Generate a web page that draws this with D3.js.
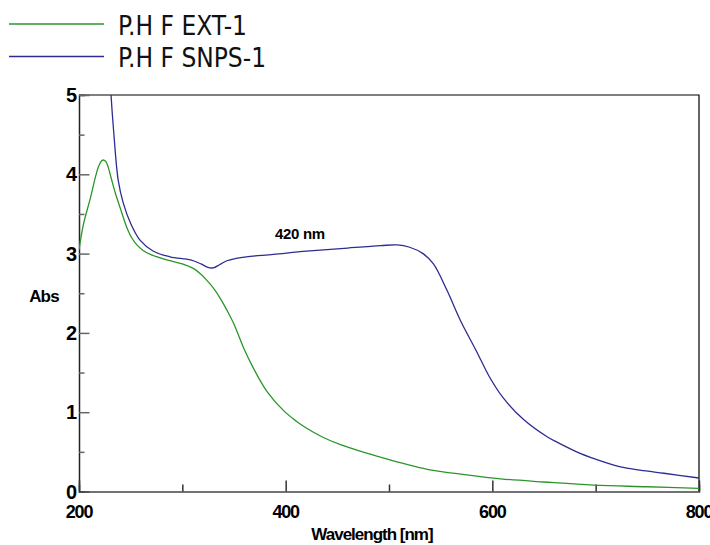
<!DOCTYPE html>
<html>
<head>
<meta charset="utf-8">
<script src="https://cdn.jsdelivr.net/npm/d3@7"></script>
<style>
  body { margin: 0; background: #fff; }
  .tick-lbl { font-family: "Liberation Sans", Arial, sans-serif; font-weight: bold; fill: #000; }
</style>
</head>
<body>
<script>
(function(){

  var width = 710, height = 545;
  var margin = { top: 95, right: 11, bottom: 53.5, left: 79 };

  // series names + colours
  var seriesNames = ["P.H F EXT-1", "P.H F SNPS-1"];
  var seriesColors = ["#2a962a", "#2c2c92"];

  // P.H F EXT-1 (nm, abs)
  var extNm  = [200, 204.5, 211, 216, 219, 222, 224, 226, 228, 231, 235, 240, 246, 251, 256, 262, 269, 280, 288, 300, 311, 318, 324, 331, 337, 343, 350, 359, 369, 382, 398, 410, 420, 435, 453, 495, 537, 575, 608, 650, 698, 750, 800];
  var extAbs = [3.05, 3.38, 3.70, 3.97, 4.10, 4.17, 4.18, 4.16, 4.10, 3.96, 3.77, 3.57, 3.34, 3.20, 3.11, 3.04, 2.99, 2.94, 2.91, 2.87, 2.81, 2.74, 2.66, 2.55, 2.43, 2.29, 2.11, 1.82, 1.55, 1.26, 1.02, 0.89, 0.80, 0.69, 0.59, 0.42, 0.28, 0.21, 0.16, 0.12, 0.08, 0.06, 0.04];

  // P.H F SNPS-1 (nm, abs)
  var snpsNm  = [228, 231, 233.5, 238, 243, 250, 259, 272, 288, 308, 318, 324, 330, 336, 343, 352, 362, 388, 420, 460, 492, 508, 520, 533, 543, 556, 569, 585, 597, 610, 630, 653, 663, 685, 695, 724, 743, 766, 800];
  var snpsAbs = [5.8, 5.0, 4.55, 3.92, 3.63, 3.38, 3.17, 3.03, 2.96, 2.92, 2.87, 2.83, 2.82, 2.86, 2.91, 2.94, 2.96, 2.99, 3.03, 3.07, 3.10, 3.11, 3.08, 3.0, 2.87, 2.54, 2.16, 1.76, 1.45, 1.19, 0.91, 0.69, 0.62, 0.48, 0.43, 0.31, 0.27, 0.23, 0.17];

  var xTickLabels = [200, 400, 600, 800];
  var yTickLabels = [0, 1, 2, 3, 4, 5];

  var svg = d3.select("body").append("svg")
      .attr("width", width)
      .attr("height", height);

  var x = d3.scaleLinear().domain([200, 800]).range([margin.left, width - margin.right]);
  var y = d3.scaleLinear().domain([0, 5]).range([height - margin.bottom, margin.top]);

  svg.append("clipPath").attr("id", "plot-clip")
    .append("rect")
      .attr("x", x(200)).attr("y", y(5))
      .attr("width", x(800) - x(200)).attr("height", y(0) - y(5));

  // frame top / right
  svg.append("path")
      .attr("d", "M" + x(200) + "," + y(5) + "H" + x(800) + "V" + y(0))
      .attr("fill", "none")
      .attr("stroke", "#000")
      .attr("stroke-width", 1.2);

  // y axis, ticks inside
  var yAxis = d3.axisRight(y)
      .tickValues(d3.range(0, 5.01, 0.5))
      .tickSize(6)
      .tickFormat("");
  var gy = svg.append("g")
      .attr("transform", "translate(" + x(200) + ",0)")
      .call(yAxis);
  gy.select(".domain").attr("stroke", "#222").attr("stroke-width", 1.5);
  gy.selectAll(".tick line")
      .attr("stroke", "#666").attr("stroke-width", 1.5)
      .attr("x2", function(d){ return d % 1 === 0 ? 10.5 : 5.5 });

  gy.selectAll(".ylbl")
    .data(yTickLabels)
    .enter().append("text")
      .attr("class", "tick-lbl")
      .attr("x", -3)
      .attr("y", function(d){ return y(d) + 7 })
      .attr("text-anchor", "end")
      .attr("font-size", 20)
      .attr("letter-spacing", -1)
      .text(function(d){ return d });

  // x axis, ticks inside
  var xAxis = d3.axisTop(x)
      .tickValues(d3.range(200, 801, 100))
      .tickSize(7)
      .tickFormat("");
  var gx = svg.append("g")
      .attr("transform", "translate(0," + y(0) + ")")
      .call(xAxis);
  gx.select(".domain").attr("stroke", "#444").attr("stroke-width", 1.5);
  gx.selectAll(".tick line")
      .attr("stroke", "#333").attr("stroke-width", 1.5)
      .attr("y2", function(d){ return d % 200 === 0 ? -11 : -7 });

  gx.selectAll(".xlbl")
    .data(xTickLabels)
    .enter().append("text")
      .attr("class", "tick-lbl")
      .attr("x", function(d){ return x(d) })
      .attr("y", 26)
      .attr("text-anchor", "middle")
      .attr("font-size", 18)
      .attr("letter-spacing", -1.2)
      .text(function(d){ return d });

  svg.append("text")
      .attr("class", "tick-lbl")
      .attr("x", 372)
      .attr("y", 540)
      .attr("text-anchor", "middle")
      .attr("font-size", 17)
      .attr("letter-spacing", -1)
      .text("Wavelength [nm]");

  svg.append("text")
      .attr("class", "tick-lbl")
      .attr("x", 44)
      .attr("y", 302)
      .attr("text-anchor", "middle")
      .attr("font-size", 17)
      .attr("letter-spacing", -0.8)
      .text("Abs");

  // curves
  var line = d3.line()
      .x(function(d){ return x(d[0]) })
      .y(function(d){ return y(d[1]) })
      .curve(d3.curveCatmullRom.alpha(0.5));

  var series = [d3.zip(extNm, extAbs), d3.zip(snpsNm, snpsAbs)];

  svg.append("g")
      .attr("clip-path", "url(#plot-clip)")
    .selectAll("path")
    .data(series)
    .enter().append("path")
      .attr("d", line)
      .attr("fill", "none")
      .attr("stroke", function(d, i){ return seriesColors[i] })
      .attr("stroke-width", 1.3);

  // peak annotation
  svg.append("text")
      .attr("class", "tick-lbl")
      .attr("x", 275)
      .attr("y", 239)
      .attr("font-size", 15)
      .attr("letter-spacing", -0.3)
      .text("420 nm");

  // legend
  var legend = svg.selectAll(".legend")
    .data(seriesNames)
    .enter().append("g")
      .attr("class", "legend")
      .attr("transform", function(d, i){ return "translate(0," + (24 + i * 32.5) + ")" });

  legend.append("line")
      .attr("x1", 9).attr("x2", 104)
      .attr("stroke", function(d, i){ return seriesColors[i] })
      .attr("stroke-width", 1.3);

  legend.append("text")
      .attr("x", 118)
      .attr("y", 10.5)
      .attr("font-family", "'DejaVu Sans Condensed', 'DejaVu Sans', sans-serif")
      .attr("font-size", 26)
      .attr("fill", "#111")
      .text(function(d){ return d });

})()
</script>
</body>
</html>
